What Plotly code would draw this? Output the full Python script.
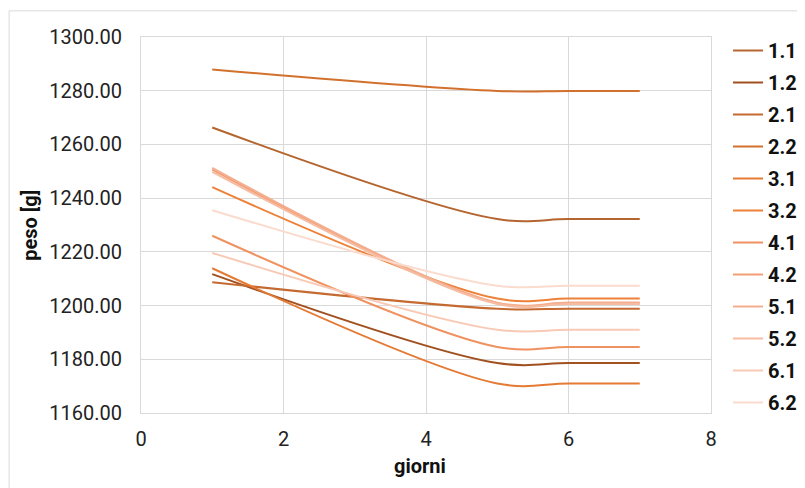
import plotly.graph_objects as go

# Data
days = [1, 5, 6, 7]
series_names = ["1.1", "1.2", "2.1", "2.2", "3.1", "3.2", "4.1", "4.2", "5.1", "5.2", "6.1", "6.2"]
s_1_1 = [1266.3, 1232.2, 1232.2, 1232.2]
s_1_2 = [1211.7, 1178.6, 1178.6, 1178.6]
s_2_1 = [1208.7, 1198.8, 1198.8, 1198.8]
s_2_2 = [1287.9, 1279.9, 1279.9, 1279.9]
s_3_1 = [1213.9, 1171.0, 1171.0, 1171.0]
s_3_2 = [1244.1, 1202.6, 1202.6, 1202.6]
s_4_1 = [1226.0, 1184.6, 1184.6, 1184.6]
s_4_2 = [1250.6, 1200.9, 1200.9, 1200.9]
s_5_1 = [1251.3, 1201.1, 1201.1, 1201.1]
s_5_2 = [1249.8, 1200.6, 1200.6, 1200.6]
s_6_1 = [1219.6, 1191.0, 1191.0, 1191.0]
s_6_2 = [1235.5, 1207.4, 1207.4, 1207.4]
values = [s_1_1, s_1_2, s_2_1, s_2_2, s_3_1, s_3_2, s_4_1, s_4_2, s_5_1, s_5_2, s_6_1, s_6_2]

colors = ["#B5652F", "#A1511F", "#C46A30", "#D2702E", "#E57A35", "#EE8038",
          "#EF9260", "#F29E76", "#F4AE8E", "#F6BCA2", "#F8CAB6", "#FADBCD"]

FONT = "Roboto"
fig = go.Figure()
for name, vals, col in zip(series_names, values, colors):
    fig.add_trace(go.Scatter(
        x=days, y=vals, name=name, mode="lines", legendgroup=name,
        line=dict(color=col, width=2, shape="spline", smoothing=1.0),
    ))

OFF = 8  # default page body margin
W, H = 797, 480
L, T = 141.3 - OFF, 36.7 - OFF
PR, PB = 711.0 - OFF, 413.0 - OFF
pw, ph = PR - L, PB - T
R, B = W - PR, H - PB

def px_x(p):
    return (p - OFF - L) / pw

def px_y(p):
    return (PB - (p - OFF)) / ph

fig.update_layout(
    width=W, height=H,
    margin=dict(l=L, r=R, t=T, b=B, pad=0, autoexpand=False),
    paper_bgcolor="white", plot_bgcolor="white",
    font=dict(family=FONT, size=20, color="#222222"),
    showlegend=True,
    legend=dict(
        x=px_x(728), y=px_y(30.7), xanchor="left", yanchor="top",
        font=dict(family=FONT, size=20, color="#111111", weight="bold"),
        tracegroupgap=3, itemwidth=30, bgcolor="rgba(0,0,0,0)",
        maxheight=470,
    ),
    xaxis=dict(
        range=[0, 8], dtick=2, tick0=0, showgrid=True, gridcolor="#d9d9d9", gridwidth=1,
        zeroline=False, showline=True, linecolor="#d9d9d9", linewidth=1, mirror=True,
        ticks="", ticklabelstandoff=8, tickfont=dict(family=FONT, size=20, color="#222222"),
    ),
    yaxis=dict(
        range=[1160, 1300], dtick=20, tick0=1160, showgrid=True, gridcolor="#d9d9d9", gridwidth=1,
        zeroline=False, showline=True, linecolor="#d9d9d9", linewidth=1, mirror=True,
        ticks="", ticklabelstandoff=14, tickformat=".2f",
        tickfont=dict(family=FONT, size=20, color="#222222"),
    ),
    annotations=[
        dict(text="<b>giorni</b>", xref="paper", yref="paper", x=px_x(420), y=px_y(466),
             xanchor="center", yanchor="middle", showarrow=False,
             font=dict(family=FONT, size=20, color="#111111")),
        dict(text="<b>peso [g]</b>", xref="paper", yref="paper", x=px_x(31), y=px_y(225),
             xanchor="center", yanchor="middle", showarrow=False, textangle=-90,
             font=dict(family=FONT, size=20, color="#111111")),
    ],
    shapes=[
        dict(type="rect", xref="paper", yref="paper",
             x0=px_x(9.5), y0=px_y(10.5), x1=px_x(830), y1=px_y(520),
             line=dict(color="#d9d9d9", width=1), fillcolor="rgba(0,0,0,0)", layer="below"),
    ],
)

fig.write_html("out.html")
